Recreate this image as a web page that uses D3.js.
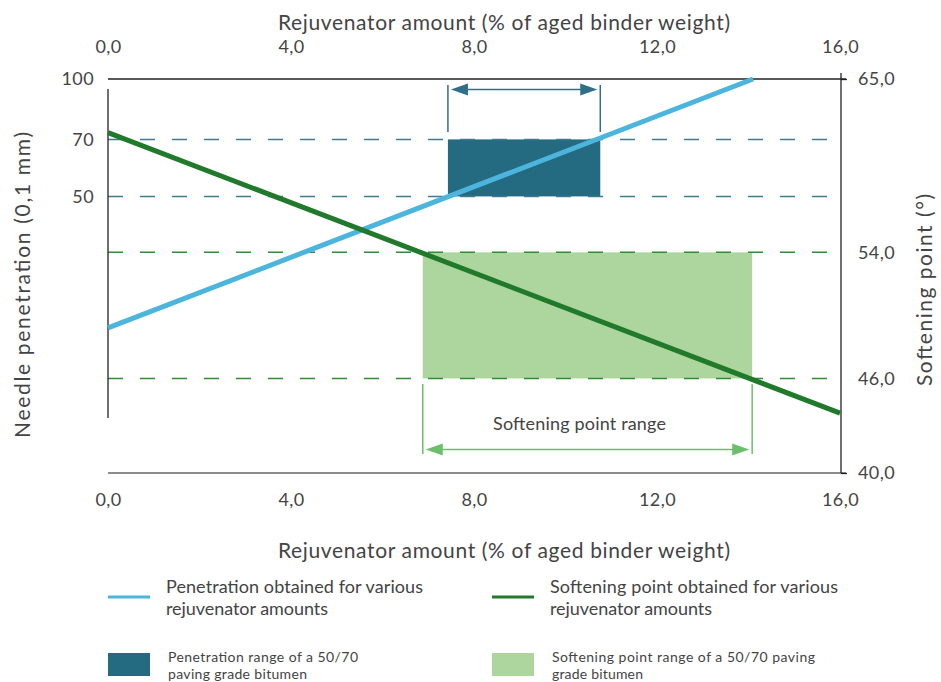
<!DOCTYPE html>
<html><head><meta charset="utf-8">
<script src="https://cdn.jsdelivr.net/npm/d3@7"></script>
<style>body{margin:0;background:#fff}svg{display:block}text{font-family:Lato,"Open Sans",sans-serif;fill:#444}</style>
</head><body><svg id="c" width="941" height="682"></svg>
<script>
const xTicks = [0, 4, 8, 12, 16];
const xTickLabels = ["0,0", "4,0", "8,0", "12,0", "16,0"];
const penTicks = [100, 70, 50];
const penTickLabels = ["100", "70", "50"];
const softTicks = [65, 54, 46, 40];
const softTickLabels = ["65,0", "54,0", "46,0", "40,0"];
const penLineX = [0, 14.1];
const penLineY = [23, 100];
const softLineX = [0, 16];
const softLineY = [61.6, 43.8];
const penRangeX = [7.43, 10.76];
const penRangeY = [50, 70];
const softRangeX = [6.88, 14.08];
const softRangeY = [46, 54];
const xTitle = "Rejuvenator amount (% of aged binder weight)";
const yLeftTitle = "Needle penetration (0,1 mm)";
const yRightTitle = "Softening point (°)";
const rangeLabel = "Softening point range";

const svg = d3.select("#c");
const L = 108, R = 840, T = 79, B = 473;
const x = d3.scaleLinear().domain([0, 16]).range([L, R]);
const ySoft = d3.scaleLinear().domain([40, 65]).range([B, T]);
const yPen = d3.scaleLog().domain([10, 100]).range([469, T]);

const cBlueLine = "#4cb5dd", cGreenLine = "#217a2b", cBlueRect = "#246a80", cGreenRect = "#acd69e";
const cBlueDash = "#3d7b91", cGreenDash = "#2f8c37", cBlueArrow = "#2f7087", cGreenArrow = "#6cbf6a";

// helper: text fitted to a width
function fitText(sel, w) {
  return sel.attr("textLength", w).attr("lengthAdjust", "spacing");
}

// ranges (rects)
svg.append("rect").attr("x", x(softRangeX[0])).attr("width", x(softRangeX[1]) - x(softRangeX[0]))
  .attr("y", ySoft(softRangeY[1])).attr("height", ySoft(softRangeY[0]) - ySoft(softRangeY[1])).attr("fill", cGreenRect);
svg.append("rect").attr("x", x(penRangeX[0])).attr("width", x(penRangeX[1]) - x(penRangeX[0]))
  .attr("y", yPen(penRangeY[1])).attr("height", yPen(penRangeY[0]) - yPen(penRangeY[1])).attr("fill", cBlueRect);

// dashed reference lines
penRangeY.forEach(v => svg.append("line").attr("x1", L).attr("x2", R).attr("y1", yPen(v)).attr("y2", yPen(v))
  .attr("stroke", cBlueDash).attr("stroke-width", 1.5).attr("stroke-dasharray", "15 17"));
softRangeY.forEach(v => svg.append("line").attr("x1", L).attr("x2", R).attr("y1", ySoft(v)).attr("y2", ySoft(v))
  .attr("stroke", cGreenDash).attr("stroke-width", 1.5).attr("stroke-dasharray", "15 17"));

// axes lines
svg.append("line").attr("x1", L).attr("x2", R + 6).attr("y1", T).attr("y2", T).attr("stroke", "#222").attr("stroke-width", 1.3);
svg.append("line").attr("x1", L).attr("x2", R + 6).attr("y1", B).attr("y2", B).attr("stroke", "#666").attr("stroke-width", 1.6);
svg.append("line").attr("x1", R + 1).attr("x2", R + 1).attr("y1", T - 6).attr("y2", B).attr("stroke", "#222").attr("stroke-width", 1.3);
svg.append("line").attr("x1", L).attr("x2", L).attr("y1", T + 10).attr("y2", 418).attr("stroke", "#222").attr("stroke-width", 1.3);

// data lines
const lineP = d3.line().x(d => x(d[0])).y(d => yPen(d[1]));
svg.append("path").datum(penLineX.map((v, i) => [v, penLineY[i]])).attr("d", lineP)
  .attr("fill", "none").attr("stroke", cBlueLine).attr("stroke-width", 5);
const lineS = d3.line().x(d => x(d[0])).y(d => ySoft(d[1]));
svg.append("path").datum(softLineX.map((v, i) => [v, softLineY[i]])).attr("d", lineS)
  .attr("fill", "none").attr("stroke", cGreenLine).attr("stroke-width", 5);

// arrows
function arrow(x1, x2, y, color) {
  const g = svg.append("g");
  g.append("line").attr("x1", x1 + 10).attr("x2", x2 - 10).attr("y1", y).attr("y2", y).attr("stroke", color).attr("stroke-width", 1.5);
  g.append("path").attr("d", `M${x1 + 3},${y} L${x1 + 20},${y - 6} L${x1 + 20},${y + 6} Z`).attr("fill", color);
  g.append("path").attr("d", `M${x2 - 3},${y} L${x2 - 20},${y - 6} L${x2 - 20},${y + 6} Z`).attr("fill", color);
}
[penRangeX[0], penRangeX[1]].forEach(v => svg.append("line").attr("x1", x(v)).attr("x2", x(v)).attr("y1", 85).attr("y2", 132)
  .attr("stroke", cBlueArrow).attr("stroke-width", 1.5));
arrow(x(penRangeX[0]), x(penRangeX[1]), 89.5, cBlueArrow);
[softRangeX[0], softRangeX[1]].forEach(v => svg.append("line").attr("x1", x(v)).attr("x2", x(v)).attr("y1", 384).attr("y2", 454)
  .attr("stroke", cGreenArrow).attr("stroke-width", 1.5));
arrow(x(softRangeX[0]), x(softRangeX[1]), 449.5, cGreenArrow);
fitText(svg.append("text").attr("x", 493).attr("y", 430).attr("font-size", 18).text(rangeLabel), 173);

// tick labels via axes
const fmtX = d => xTickLabels[xTicks.indexOf(d)];
const topAx = svg.append("g").attr("transform", `translate(0,${T})`)
  .call(d3.axisTop(x).tickValues(xTicks).tickFormat(fmtX).tickSize(0).tickPadding(26));
const botAx = svg.append("g").attr("transform", `translate(0,${B})`)
  .call(d3.axisBottom(x).tickValues(xTicks).tickFormat(fmtX).tickSize(0).tickPadding(20));
const leftAx = svg.append("g").attr("transform", `translate(${L},0)`)
  .call(d3.axisLeft(yPen).tickValues(penTicks).tickFormat(d => penTickLabels[penTicks.indexOf(d)]).tickSize(0).tickPadding(14));
const rightAx = svg.append("g").attr("transform", `translate(${R + 1},0)`)
  .call(d3.axisRight(ySoft).tickValues(softTicks).tickFormat(d => softTickLabels[softTicks.indexOf(d)]).tickSize(6).tickPadding(11));
[topAx, botAx, leftAx, rightAx].forEach(a => {
  a.select(".domain").remove();
  a.selectAll("text").attr("font-family", "Lato, sans-serif").attr("font-size", 18).attr("fill", "#444").attr("letter-spacing", 0.4);
});
rightAx.selectAll(".tick line").attr("stroke", "#222").attr("stroke-width", 1.3).filter(d => d !== 65 && d !== 40).remove();

// titles
fitText(svg.append("text").attr("x", 278).attr("y", 30).attr("font-size", 21).text(xTitle), 452);
fitText(svg.append("text").attr("x", 278).attr("y", 558).attr("font-size", 21).text(xTitle), 452);
fitText(svg.append("text").attr("transform", "translate(30,438) rotate(-90)").attr("font-size", 21).text(yLeftTitle), 306);
fitText(svg.append("text").attr("transform", "translate(932,386) rotate(-90)").attr("font-size", 21).text(yRightTitle), 192);

// legend
const legend = [
  {type: "line", color: cBlueLine, x: 108, lines: ["Penetration obtained for various", "rejuvenator amounts"], widths: [257, 162]},
  {type: "line", color: cGreenLine, x: 492, lines: ["Softening point obtained for various", "rejuvenator amounts"], widths: [288, 162]},
  {type: "rect", color: cBlueRect, x: 108, lines: ["Penetration range of a 50/70", "paving grade bitumen"], widths: [190, 139]},
  {type: "rect", color: cGreenRect, x: 492, lines: ["Softening point range of a 50/70 paving", "grade bitumen"], widths: [263, 91]}
];
legend.forEach(l => {
  if (l.type === "line") {
    svg.append("line").attr("x1", l.x).attr("x2", l.x + 42).attr("y1", 597).attr("y2", 597).attr("stroke", l.color).attr("stroke-width", 3);
    l.lines.forEach((t, i) => fitText(svg.append("text").attr("x", l.x + 58).attr("y", 593 + i * 22).attr("font-size", 18).text(t), l.widths[i]));
  } else {
    svg.append("rect").attr("x", l.x).attr("y", 653).attr("width", 42).attr("height", 23).attr("fill", l.color);
    l.lines.forEach((t, i) => fitText(svg.append("text").attr("x", l.x + 60).attr("y", 662 + i * 16.5).attr("font-size", 14).text(t), l.widths[i]));
  }
});
</script></body></html>
